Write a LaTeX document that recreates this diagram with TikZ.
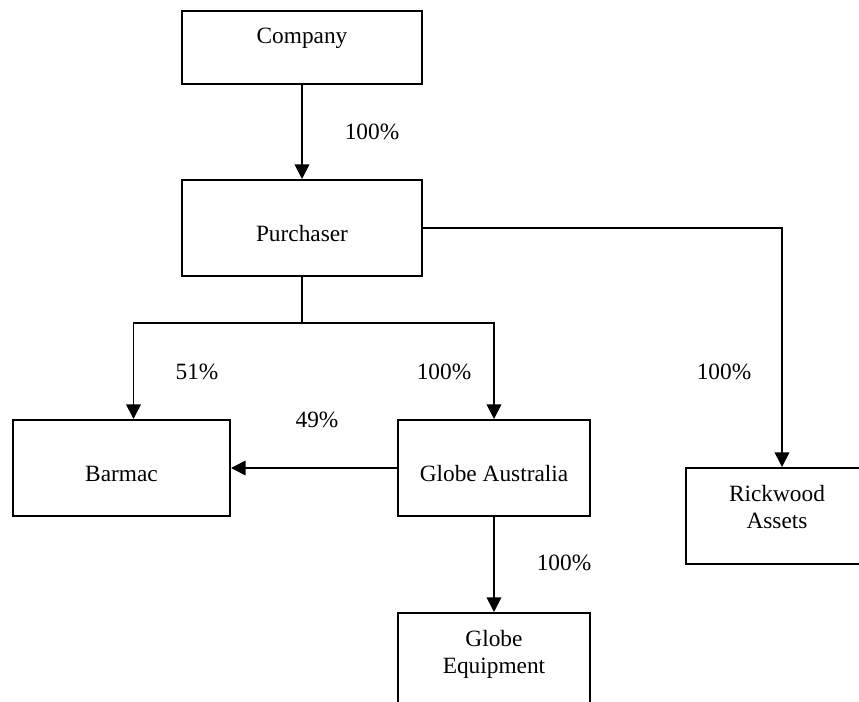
\documentclass[tikz,border=0pt]{standalone}
\usepackage{fontspec}
\setmainfont{Liberation Serif}
\usetikzlibrary{arrows.meta, positioning, calc}

\begin{document}
\begin{tikzpicture}[
        x=0.75pt, y=-0.75pt,
        font=\fontsize{17.5pt}{20.25pt}\selectfont,
        >={Triangle[length=11pt, width=11pt]},
        entity/.style={
            draw=black,
            line width=1.5pt,
            rectangle,
            anchor=north,
            align=center,
            inner xsep=0pt,
            inner ysep=0pt,
            minimum width=144pt,
            text height=24.75pt,
            text depth=47.25pt
        },
        midentity/.style={
            entity,
            text height=45.75pt,
            text depth=26.25pt
        },
        twoline/.style={
            entity,
            text height=45pt,
            text depth=27pt
        },
        share/.style={inner sep=0pt},
        line/.style={draw, line width=1.3pt, -},
        line_arrow/.style={draw, line width=1.3pt, ->}
    ]

    \useasboundingbox (0,0) rectangle (859,702);
    \clip (0,0) rectangle (859,702);

    % Boxes
    \node[entity, minimum width=180pt, text depth=30pt] (company) at (302,10) {Company};
    \node[midentity, minimum width=180pt] (purchaser) at (302,179) {Purchaser};
    \node[midentity, minimum width=162.75pt] (barmac) at (121.5,419) {Barmac};
    \node[midentity] (globeau) at (494,419) {Globe Australia};
    \node[twoline, minimum width=136.5pt] (rickwood) at (777,467) {Rickwood\\Assets};
    \node[twoline] (globeeq) at (494,612) {Globe\\Equipment};

    % Connectors
    \coordinate (split) at (302,323);
    \draw[line_arrow] (company.south) -- (purchaser.north);
    \draw[line] (purchaser.south) -- (split);
    \draw[line_arrow] (split) -| ([xshift=9pt]barmac.north);
    \draw[line_arrow] (split) -| (globeau.north);
    \draw[line_arrow] (globeau.west) -- (barmac.east);
    \draw[line_arrow] (purchaser.east) -| ([xshift=3.75pt]rickwood.north);
    \draw[line_arrow] (globeau.south) -- (globeeq.north);

    % Shares
    \node[share] (pct_purchaser) at (372,132) {100\%};
    \node[share] (pct_barmac) at (197,372) {51\%};
    \node[share] (pct_globeau) at (444,372) {100\%};
    \node[share] (pct_cross) at (317,420) {49\%};
    \node[share] (pct_rickwood) at (724,372) {100\%};
    \node[share] (pct_globeeq) at (564,563) {100\%};

\end{tikzpicture}
\end{document}
